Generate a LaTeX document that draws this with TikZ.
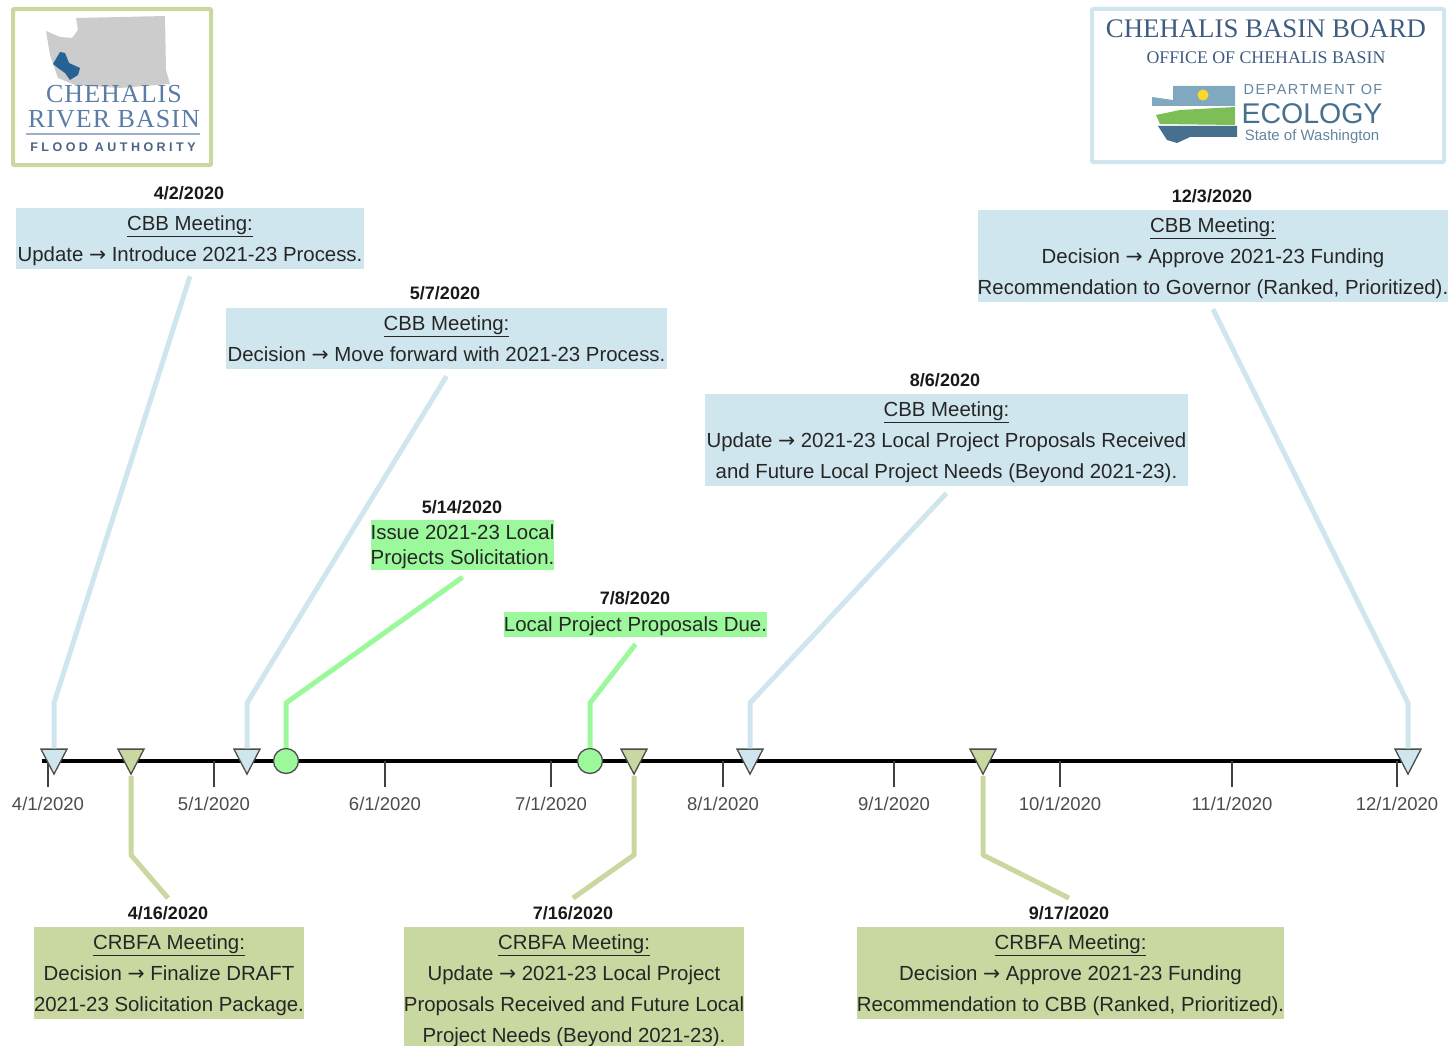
\documentclass[tikz,border=0pt]{standalone}
\usepackage{fontspec}
\setmainfont{Liberation Sans}
\newfontfamily\logoserif{Liberation Serif}
\newfontfamily\logospaced[LetterSpace=4]{Liberation Serif}
\newfontfamily\logosans[LetterSpace=10]{Liberation Sans}
\newfontfamily\arrowfont{DejaVu Sans}
\usetikzlibrary{shapes.geometric}
\definecolor{cbbblue}{RGB}{208,230,238}
\definecolor{crbolive}{RGB}{200,216,160}
\definecolor{issuegreen}{RGB}{155,249,155}
\definecolor{logoink}{RGB}{92,124,168}
\definecolor{boardink}{RGB}{62,92,128}
\definecolor{ecoink}{RGB}{70,112,142}
\newcommand{\firstline}[1]{\rule{0pt}{19pt}#1}
\newcommand{\toarrow}{{\arrowfont →}}
\tikzset{
	boxtext/.style={inner sep=0pt, align=center, text=black!85, font=\fontsize{20.4}{31}\selectfont},
	datetext/.style={inner sep=0pt, text=black!90, font=\fontsize{18}{22}\selectfont\bfseries},
	ticktext/.style={inner sep=0pt, text=black!70, font=\fontsize{18.5}{22}\selectfont},
	link/.style={line width=5pt, line join=round},
	marker/.style={isosceles triangle, isosceles triangle stretches, shape border rotate=270, draw=black!70, line width=1.3pt, inner sep=0pt, minimum width=26pt, minimum height=25pt},
	dot/.style={circle, draw=black!70, fill=issuegreen, line width=1.3pt, inner sep=0pt, minimum size=25pt}
}
\begin{document}
\begin{tikzpicture}[x=1pt, y=-1pt]
		\useasboundingbox (0,0) rectangle (1448,1046);
		
		%left logo
		\draw[line width=4pt, crbolive, rounded corners=1pt] (13,9) rectangle (211,165);
		\fill[black!20] (46,31)--(60,37)--(72,38)--(78,30)--(76,18)--(165,16)--(166,70)--(170,84)--(120,88)--(75,85)--(58,78)--(50,55)--cycle;
		\fill[blue!45!cyan!50!black!85!white] (53,64)--(60,52)--(65,53)--(69,63)--(80,68)--(78,75)--(70,80)--(65,73)--(58,68)--cycle;
		\node (lg1) at (114,94) [inner sep=0pt, text=logoink, font=\fontsize{26}{30}\selectfont\logospaced]{CHEHALIS};
		\node (lg2) at (114,119) [inner sep=0pt, text=logoink, font=\fontsize{26}{30}\selectfont\logospaced]{RIVER BASIN};
		\draw[line width=1.2pt, logoink!60] (26,134)--(200,134);
		\node (lg3) at (113,147) [inner sep=0pt, text=logoink!80!black, font=\fontsize{12.5}{16}\selectfont\bfseries]{F L O O D\ \ A U T H O R I T Y};
		
		%right logo
		\draw[line width=4pt, cbbblue, rounded corners=1pt] (1092,9) rectangle (1444,162);
		\node (rg1) at (1266,29) [inner sep=0pt, text=boardink, font=\fontsize{26.8}{30}\selectfont\logoserif]{CHEHALIS BASIN BOARD};
		\node (rg2) at (1266,58) [inner sep=0pt, text=boardink, font=\fontsize{17.8}{22}\selectfont\logoserif]{OFFICE OF CHEHALIS BASIN};
		\fill[blue!35!cyan!50!black!50!white] (1173,86)--(1235,86)--(1235,106)--(1152,106)--(1152,97)--(1173,100)--cycle;
		\fill[yellow!70!orange!85!white] (1203,95) circle (5.5);
		\fill[green!50!black!60!white!85!yellow] (1156,115)--(1180,110)--(1235,107)--(1235,125)--(1160,124)--cycle;
		\fill[ecoink] (1158,126)--(1237,126)--(1237,137)--(1190,137)--(1177,143)--(1167,140)--cycle;
		\node (rg3) at (1313,90) [inner sep=0pt, text=ecoink!85, font=\fontsize{14.5}{16}\selectfont\logosans]{DEPARTMENT OF};
		\node (rg4) at (1312,114) [inner sep=0pt, text=ecoink, font=\fontsize{28.5}{34}\selectfont]{ECOLOGY};
		\node (rg5) at (1312,137) [inner sep=0pt, text=ecoink!85, font=\fontsize{15}{17}\selectfont]{State of Washington};
		
		%time axis
		\coordinate (axstart) at (42,761);
		\coordinate (axend) at (1408,761);
		\draw[line width=4pt] (axstart) -- (axend);
		\foreach \x/\d [count=\i] in {48/4, 214/5, 385/6, 551/7, 723/8, 894/9, 1060/10, 1232/11, 1397/12}{
			\draw[line width=1.5pt, black!75] (\x, 761)--(\x, 787);
			\node (tick\i) at (\x, 804) [ticktext]{\d/1/2020};
		}
		
		%blue meetings
		\node (cbba) at (190,238.5) [boxtext, fill=cbbblue, minimum width=348pt, minimum height=61pt]{\firstline{\underline{CBB Meeting:}}\\Update \toarrow{} Introduce 2021-23 Process.};
		\node (cbbb) at (446.5,338.5) [boxtext, fill=cbbblue, minimum width=441pt, minimum height=61pt]{\underline{CBB Meeting:}\\Decision \toarrow{} Move forward with 2021-23 Process.};
		\node (cbbc) at (946.5,440) [boxtext, fill=cbbblue, minimum width=483pt, minimum height=92pt]{\firstline{\underline{CBB Meeting:}}\\Update \toarrow{} 2021-23 Local Project Proposals Received\\and Future Local Project Needs (Beyond 2021-23).};
		\node (cbbd) at (1213,256) [boxtext, fill=cbbblue, minimum width=470pt, minimum height=92pt]{\firstline{\underline{CBB Meeting:}}\\Decision \toarrow{} Approve 2021-23 Funding\\Recommendation to Governor (Ranked, Prioritized).};
		\node (dcbba) at (189,193) [datetext]{4/2/2020};
		\node (dcbbb) at (445,293) [datetext]{5/7/2020};
		\node (dcbbc) at (945,380) [datetext]{8/6/2020};
		\node (dcbbd) at (1212,196) [datetext]{12/3/2020};
		
		%green dates
		\node (issa) at (462.5,545) [boxtext, fill=issuegreen, minimum width=183pt, minimum height=50pt, font=\fontsize{20.4}{25}\selectfont]{\firstline{Issue 2021-23 Local}\\Projects Solicitation.};
		\node (issb) at (635.5,624.5) [boxtext, fill=issuegreen, minimum width=263pt, minimum height=25pt]{\firstline{Local Project Proposals Due.}};
		\node (dissa) at (462,507) [datetext]{5/14/2020};
		\node (dissb) at (635,598) [datetext]{7/8/2020};
		
		%olive meetings
		\node (crba) at (169,973) [boxtext, fill=crbolive, minimum width=270pt, minimum height=92pt]{\firstline{\underline{CRBFA Meeting:}}\\Decision \toarrow{} Finalize DRAFT\\2021-23 Solicitation Package.};
		\node (crbb) at (574,988.5) [boxtext, fill=crbolive, minimum width=340pt, minimum height=123pt]{\firstline{\underline{CRBFA Meeting:}}\\Update \toarrow{} 2021-23 Local Project\\Proposals Received and Future Local\\Project Needs (Beyond 2021-23).};
		\node (crbc) at (1070.5,973) [boxtext, fill=crbolive, minimum width=427pt, minimum height=92pt]{\firstline{\underline{CRBFA Meeting:}}\\Decision \toarrow{} Approve 2021-23 Funding\\Recommendation to CBB (Ranked, Prioritized).};
		\node (dcrba) at (168,913) [datetext]{4/16/2020};
		\node (dcrbb) at (573,913) [datetext]{7/16/2020};
		\node (dcrbc) at (1069,913) [datetext]{9/17/2020};
		
		%markers on the axis
		\node (ma) at (54,757) [marker, fill=cbbblue]{};
		\node (mb) at (247,757) [marker, fill=cbbblue]{};
		\node (mc) at (750,757) [marker, fill=cbbblue]{};
		\node (md) at (1408,757) [marker, fill=cbbblue]{};
		\node (na) at (131,757) [marker, fill=crbolive]{};
		\node (nb) at (634,757) [marker, fill=crbolive]{};
		\node (nc) at (983,757) [marker, fill=crbolive]{};
		\node (da) at (286,761) [dot]{};
		\node (db) at (590,761) [dot]{};
		
		%connectors
		\foreach \m/\b in {ma/cbba, mb/cbbb, mc/cbbc, md/cbbd}{
			\draw[link, cbbblue] (\m.north) -- (\m.north |- 0,703) -- ([yshift=-7pt]\b.south);
		}
		\foreach \m/\b in {da/issa, db/issb}{
			\draw[link, issuegreen] (\m.north) -- (\m.north |- 0,703) -- ([yshift=-7pt]\b.south);
		}
		\foreach \m/\b in {na/dcrba, nb/dcrbb, nc/dcrbc}{
			\draw[link, crbolive] (\m.south) -- (\m.south |- 0,855) -- ([yshift=8pt]\b.north);
		}
\end{tikzpicture}
\end{document}
